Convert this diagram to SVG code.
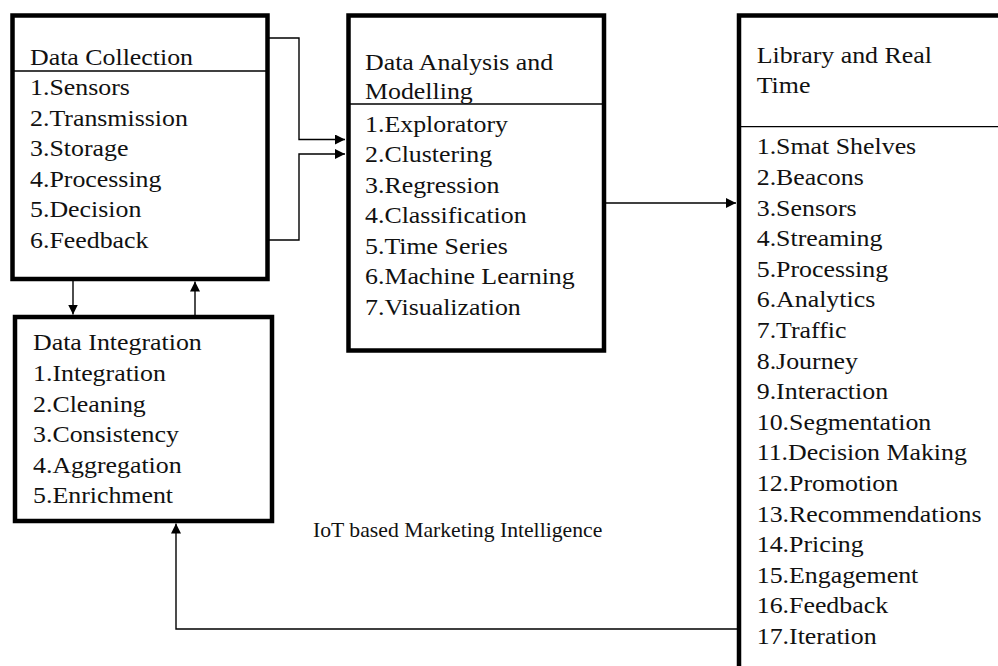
<svg xmlns="http://www.w3.org/2000/svg" width="998" height="666" viewBox="0 0 998 666">
  <style>
    .box { fill: #ffffff; stroke: #000000; stroke-width: 4.5; }
    .rule { stroke: #000000; stroke-width: 1.3; }
    .wire { fill: none; stroke: #000000; stroke-width: 1.4; }
    .t { font-family: "Liberation Serif", "Times New Roman", serif; font-size: 22.5px; fill: #111111; }
    .cap { font-family: "Liberation Serif", "Times New Roman", serif; font-size: 21.7px; fill: #111111; }
  </style>
  <defs>
    <marker id="head" viewBox="0 0 10 10" refX="10" refY="5" markerWidth="10" markerHeight="10" markerUnits="userSpaceOnUse" orient="auto">
      <path d="M0,0 L10,5 L0,10 Z" fill="#000000"/>
    </marker>
  </defs>
  <rect width="998" height="666" fill="#ffffff"/>

  <!-- connectors -->
  <g id="connectors">
    <path class="wire" d="M269,38 H299 V139.5 H345" marker-end="url(#head)"/>
    <path class="wire" d="M269,240 H299 V154 H345" marker-end="url(#head)"/>
    <path class="wire" d="M606,203 H736" marker-end="url(#head)"/>
    <path class="wire" d="M73,281 V314.5" marker-end="url(#head)"/>
    <path class="wire" d="M195,315 V281.5" marker-end="url(#head)"/>
    <path class="wire" d="M737,629 H176 V523.5" marker-end="url(#head)"/>
  </g>

  <!-- Data Collection -->
  <g id="data-collection">
    <rect class="box" x="12.5" y="15.5" width="255" height="263.5"/>
    <line class="rule" x1="12.5" y1="71" x2="267.5" y2="71"/>
    <g transform="translate(30,0) scale(1.15,1)">
      <text class="t" x="0" y="65">Data Collection</text>
      <text class="t" x="0" y="95.3">1.Sensors</text>
      <text class="t" x="0" y="125.8">2.Transmission</text>
      <text class="t" x="0" y="156.3">3.Storage</text>
      <text class="t" x="0" y="186.8">4.Processing</text>
      <text class="t" x="0" y="217.3">5.Decision</text>
      <text class="t" x="0" y="247.8">6.Feedback</text>
    </g>
  </g>

  <!-- Data Integration -->
  <g id="data-integration">
    <rect class="box" x="15" y="317" width="257" height="204"/>
    <g transform="translate(33,0) scale(1.15,1)">
      <text class="t" x="0" y="350">Data Integration</text>
      <text class="t" x="0" y="381.5">1.Integration</text>
      <text class="t" x="0" y="412">2.Cleaning</text>
      <text class="t" x="0" y="442.5">3.Consistency</text>
      <text class="t" x="0" y="473">4.Aggregation</text>
      <text class="t" x="0" y="503.5">5.Enrichment</text>
    </g>
  </g>

  <!-- Data Analysis and Modelling -->
  <g id="data-analysis">
    <rect class="box" x="348.5" y="15.5" width="255.5" height="335"/>
    <line class="rule" x1="348.5" y1="104" x2="604" y2="104"/>
    <g transform="translate(365,0) scale(1.15,1)">
      <text class="t" x="0" y="70">Data Analysis and</text>
      <text class="t" x="0" y="99.5">Modelling</text>
      <text class="t" x="0" y="131.7">1.Exploratory</text>
      <text class="t" x="0" y="162.2">2.Clustering</text>
      <text class="t" x="0" y="192.7">3.Regression</text>
      <text class="t" x="0" y="223.2">4.Classification</text>
      <text class="t" x="0" y="253.7">5.Time Series</text>
      <text class="t" x="0" y="284.2">6.Machine Learning</text>
      <text class="t" x="0" y="314.7">7.Visualization</text>
    </g>
  </g>

  <!-- Library and Real Time -->
  <g id="library-real-time">
    <rect class="box" x="739" y="15.5" width="300" height="700"/>
    <line class="rule" x1="739" y1="126.7" x2="998" y2="126.7"/>
    <g transform="translate(756.7,0) scale(1.15,1)">
      <text class="t" x="0" y="63.3">Library and Real</text>
      <text class="t" x="0" y="93.3">Time</text>
      <text class="t" x="0" y="154.5">1.Smat Shelves</text>
      <text class="t" x="0" y="185.1">2.Beacons</text>
      <text class="t" x="0" y="215.7">3.Sensors</text>
      <text class="t" x="0" y="246.3">4.Streaming</text>
      <text class="t" x="0" y="276.9">5.Processing</text>
      <text class="t" x="0" y="307.5">6.Analytics</text>
      <text class="t" x="0" y="338.1">7.Traffic</text>
      <text class="t" x="0" y="368.7">8.Journey</text>
      <text class="t" x="0" y="399.3">9.Interaction</text>
      <text class="t" x="0" y="429.9">10.Segmentation</text>
      <text class="t" x="0" y="460.5">11.Decision Making</text>
      <text class="t" x="0" y="491.1">12.Promotion</text>
      <text class="t" x="0" y="521.7">13.Recommendations</text>
      <text class="t" x="0" y="552.3">14.Pricing</text>
      <text class="t" x="0" y="582.9">15.Engagement</text>
      <text class="t" x="0" y="613.5">16.Feedback</text>
      <text class="t" x="0" y="644.1">17.Iteration</text>
    </g>
  </g>

  <!-- caption -->
  <text class="cap" x="313" y="536.7">IoT based Marketing Intelligence</text>
</svg>
